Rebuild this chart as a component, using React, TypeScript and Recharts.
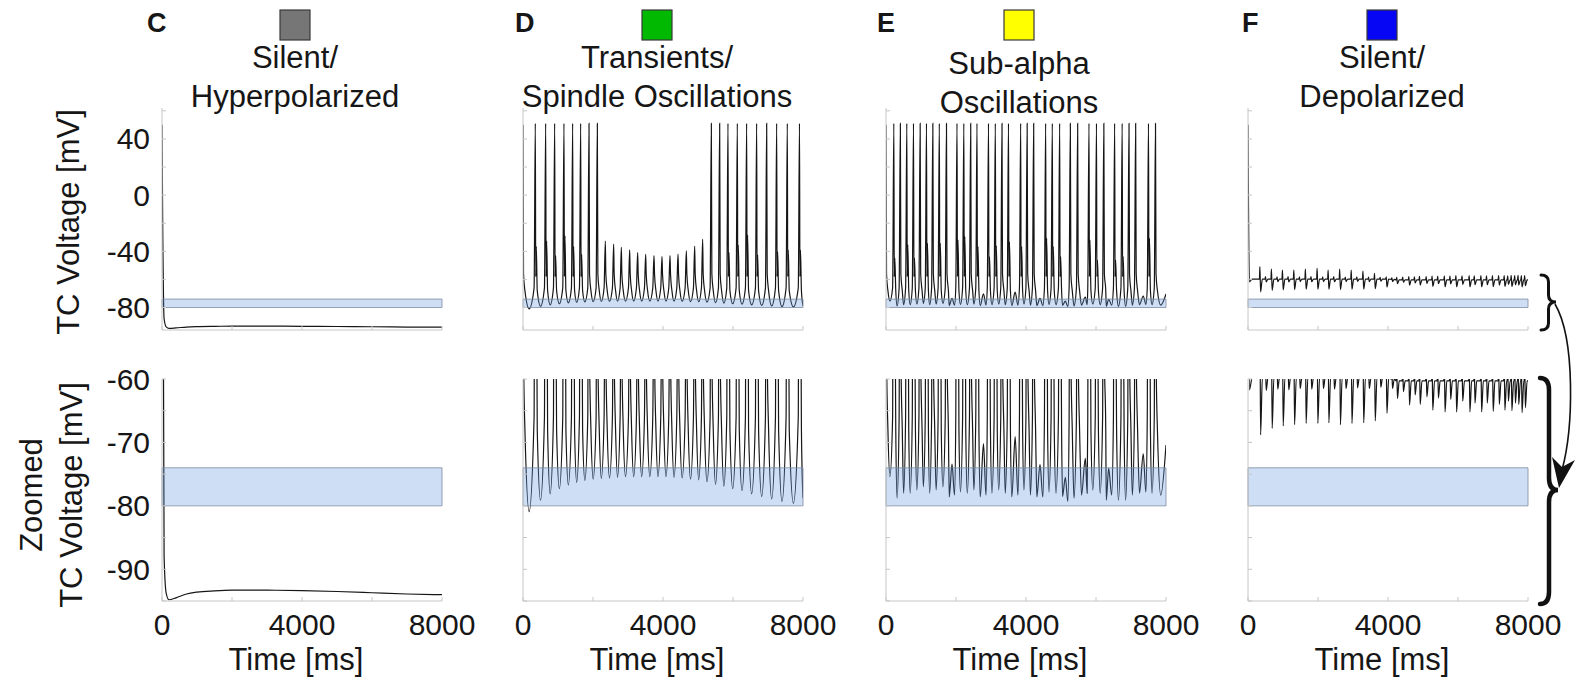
import React from "react"
import { LineChart, Line, XAxis, YAxis, ReferenceArea } from "recharts"

/* Thalamocortical voltage traces, four regimes, full-range and zoomed rows. */

const FONT = '"Liberation Sans", Arial, Helvetica, sans-serif'
const INK = "#161616"
const AXIS = "#c6c6c6"

// ---- axes ----
const timeDomain = [0, 8000]
const timeTicks = [0, 2000, 4000, 6000, 8000]
const timeLabels = [0, 4000, 8000]
const fullDomain = [-96, 62]
const fullTicks = [-80, -60, -40, -20, 0, 20, 40, 60]
const fullLabels = [-80, -40, 0, 40]
const zoomDomain = [-95, -60]
const zoomTicks = [-95, -90, -85, -80, -75, -70, -65, -60]
const zoomLabels = [-90, -80, -70, -60]
const bandRange = [-80, -74]

// ---- C: silent / hyperpolarized ----
const silentHypT = [0, 20, 60, 120, 200, 400, 700, 1000, 1500, 2000, 3000, 4000, 5000, 6000, 7000, 8000]
const silentHypV = [50, -20, -88, -93.8, -94.8, -94.5, -93.9, -93.6, -93.4, -93.3, -93.3, -93.35, -93.5, -93.7, -93.9, -94.0]

// ---- D: transients / spindle oscillations ----
const spindleT = [0, 352, 648, 905, 1171, 1419, 1648, 1886, 2124, 2352, 2590, 2810, 3048, 3276, 3505, 3743, 3971, 4200, 4429, 4667, 4905, 5133, 5381, 5619, 5857, 6124, 6390, 6676, 6962, 7248, 7552, 7900]
const spindlePeak = [50, 51, 51, 51, 51, 51, 51, 51, 51, -32.7, -34.8, -37.2, -39.0, -41.0, -42.1, -43.1, -43.8, -43.1, -41.9, -39.6, -36.2, -31.4, 51, 51, 51, 51, 51, 51, 51, 51, 51, 51]
const spindleShoulder: (number | null)[] = [null, -36.7, -32.7, -43.1, -29.1, -36.7, -42.1, null, null, null, null, null, null, null, null, null, null, null, null, null, null, null, null, null, -41, -35.5, -28.4, -42.6, null, -40.3, -39.1, -39.1]
const spindleTrough = [-80.9, -79.1, -78.1, -77.3, -76.7, -76.3, -76.0, -75.8, -75.7, -75.6, -75.5, -75.4, -75.4, -75.4, -75.4, -75.4, -75.4, -75.5, -75.6, -75.8, -75.9, -76.2, -76.6, -76.9, -77.3, -77.6, -78.1, -78.5, -78.9, -79.3, -79.6]
const spindleEnd = -78.8

// ---- E: sub-alpha oscillations ----
const subAlphaT = [0, 224, 410, 595, 786, 976, 1157, 1338, 1524, 1728, 1886, 2029, 2224, 2420, 2600, 2785, 2929, 3124, 3314, 3500, 3690, 3848, 4033, 4219, 4400, 4562, 4752, 4962, 5124, 5267, 5476, 5695, 5800, 6014, 6224, 6362, 6533, 6748, 6943, 7133, 7350, 7500, 7700]
const subAlphaPeak = [50, 51, 51, 51, 51, 51, 51, 51, 51, 51, -73.4, 51, 51, 51, 51, -70.2, 51, 51, 51, 51, -69.1, 51, 51, 51, -73.5, 51, 51, 51, -75.5, 51, 51, -72.5, 51, 51, 51, -74.1, 51, 51, 51, 51, -71.8, 51, 51]
const subAlphaShoulder: (number | null)[] = [null, -44.9, null, -35.4, -44.9, null, -34.3, null, -34.3, null, null, -32, -29.6, null, -36.6, null, -43.8, -36.1, null, -33.2, null, -36.6, null, null, null, -30.8, -36.6, -43.8, null, null, null, null, -32, -46.2, null, null, -46.2, -43.8, null, null, null, -30.8, null]
const subAlphaTrough = [-75.4, -78.8, -78.0, -78.0, -77.5, -77.0, -78.0, -77.5, -77.0, -78.6, -78.3, -77.8, -78.0, -77.5, -78.6, -78.3, -78.0, -77.5, -78.0, -78.6, -78.3, -77.5, -78.3, -78.6, -78.6, -77.8, -78.0, -78.5, -79.3, -78.8, -78.3, -78.0, -77.5, -78.0, -79.1, -78.3, -79.1, -79.1, -78.3, -78.0, -77.8, -78.0, -78.3]
const subAlphaEnd = -70.4

// ---- F: silent / depolarized ----
const depolLeadT = [0, 40, 120]
const depolLeadV = [50, -61.7, -59.8]
const depolT = [340, 500, 670, 830, 985, 1145, 1310, 1470, 1640, 1800, 1975, 2135, 2290, 2450, 2620, 2780, 2950, 3110, 3285, 3445, 3615, 3775, 3950, 4110, 4250, 4420, 4595, 4755, 4900, 5090, 5260, 5420, 5610, 5770, 5940, 6115, 6320, 6465, 6655, 6815, 6985, 7160, 7320, 7420, 7520, 7620, 7715, 7810, 7905]
const depolUp = [-50.9, -58.0, -52.6, -58.2, -53.3, -58.0, -53.3, -58.2, -52.6, -58.0, -52.1, -58.2, -53.3, -58.0, -52.6, -58.3, -53.3, -58.2, -54.0, -58.4, -55.7, -58.5, -58.1, -58.8, -58.5, -58.3, -58.0, -58.2, -57.8, -58.0, -57.6, -57.8, -57.4, -57.6, -57.3, -57.5, -57.2, -57.4, -57.2, -57.4, -57.2, -57.3, -57.2, -57.4, -57.1, -57.3, -57.1, -57.3, -57.2]
const depolDip = [-68.8, -61.8, -67.8, -61.6, -67.4, -61.7, -67.2, -61.5, -67.0, -61.6, -67.0, -61.5, -66.9, -61.6, -67.2, -61.5, -67.0, -61.4, -66.9, -61.5, -66.6, -61.3, -65.4, -61.5, -63.1, -62.0, -64.1, -62.5, -64.0, -62.8, -64.9, -63.0, -65.2, -63.2, -65.2, -63.5, -65.2, -63.8, -65.2, -63.8, -65.1, -64.0, -64.9, -63.5, -65.0, -63.8, -64.0, -65.3, -64.5]
const depolRest = [-59.8, -59.8, -59.8, -59.8, -59.8, -59.8, -59.8, -59.8, -59.8, -59.8, -59.8, -59.8, -59.8, -59.8, -59.8, -59.8, -59.8, -59.8, -59.8, -59.8, -59.8, -59.8, -59.8, -60.0, -60.3, -60.3, -60.3, -60.3, -60.3, -60.3, -60.3, -60.3, -60.3, -60.3, -60.3, -60.3, -60.3, -60.3, -60.3, -60.3, -60.3, -60.3, -60.3, -60.3, -60.3, -60.3, -60.3, -60.3, -60.3]
const depolEnd = -60.3

type Pt = { t: number; v: number }

function pairs(ts: number[], vs: number[]): Pt[] {
  return ts.map((t, i) => ({ t, v: vs[i] }))
}

// spike train: each event gets its own upstroke/downstroke, troughs sit between events
function spikeTrain(
  times: number[],
  peaks: number[],
  shoulders: (number | null)[],
  troughs: number[],
  endV: number,
): Pt[] {
  const pts: Pt[] = []
  times.forEach((t, i) => {
    const p = peaks[i]
    const big = p > -60
    if (big && t > 0) pts.push({ t: t - 35, v: -66 })
    pts.push({ t, v: p })
    if (big) {
      const s = shoulders[i]
      if (s != null) {
        pts.push({ t: t + 12, v: -58 })
        pts.push({ t: t + 28, v: s })
      } else {
        pts.push({ t: t + 15, v: -56 })
      }
      pts.push({ t: t + 55, v: -68 })
    }
    if (i < troughs.length) {
      const next = i + 1 < times.length ? times[i + 1] : timeDomain[1]
      pts.push({ t: (t + next) / 2, v: troughs[i] })
    }
  })
  pts.push({ t: timeDomain[1], v: endV })
  return pts
}

function cycleTrain(ups: number[], dips: number[], rest: number[], endV: number): Pt[] {
  const pts: Pt[] = pairs(depolLeadT, depolLeadV)
  depolT.forEach((t, i) => {
    pts.push({ t: t - 15, v: rest[i] })
    pts.push({ t, v: ups[i] })
    pts.push({ t: t + 20, v: dips[i] })
    pts.push({ t: t + 70, v: rest[i] })
  })
  pts.push({ t: timeDomain[1], v: endV })
  return pts
}

const traces: Pt[][] = [
  pairs(silentHypT, silentHypV),
  spikeTrain(spindleT, spindlePeak, spindleShoulder, spindleTrough, spindleEnd),
  spikeTrain(subAlphaT, subAlphaPeak, subAlphaShoulder, subAlphaTrough, subAlphaEnd),
  cycleTrain(depolUp, depolDip, depolRest, depolEnd),
]

// ---- layout ----
const PW = 280
const PH = 222
const ML = 72
const MT = 26
const MR = 44
const MB = 56
const colLeft = [162, 523, 886, 1248]
const rowTop = [108, 379]

const headers = [
  { letter: "C", lx: 147, color: "#767676", cx: 295, lines: ["Silent/", "Hyperpolarized"], y0: 68 },
  { letter: "D", lx: 515, color: "#00b900", cx: 657, lines: ["Transients/", "Spindle Oscillations"], y0: 68 },
  { letter: "E", lx: 877, color: "#ffff00", cx: 1019, lines: ["Sub-alpha", "Oscillations"], y0: 74 },
  { letter: "F", lx: 1242, color: "#0606f4", cx: 1382, lines: ["Silent/", "Depolarized"], y0: 68 },
]

function TimeTick(props: any) {
  const { x, y, payload, showLabel } = props
  const lab = showLabel && timeLabels.includes(payload.value)
  return (
    <g>
      <line x1={x} x2={x} y1={y} y2={y - 4} stroke={AXIS} />
      {lab && (
        <text x={x} y={y + 34} textAnchor="middle" fontSize={30} fill={INK} fontFamily={FONT}>
          {payload.value}
        </text>
      )}
    </g>
  )
}

function VoltTick(props: any) {
  const { x, y, payload, labels } = props
  const lab = labels.includes(payload.value)
  return (
    <g>
      <line x1={x} x2={x + 4} y1={y} y2={y} stroke={AXIS} />
      {lab && (
        <text x={x - 12} y={y + 10.5} textAnchor="end" fontSize={30} fill={INK} fontFamily={FONT}>
          {payload.value}
        </text>
      )}
    </g>
  )
}

function Panel({ col, zoomed }: { col: number; zoomed: boolean }) {
  const labelled = col === 0
  const vLabels = labelled ? (zoomed ? zoomLabels : fullLabels) : []
  return (
    <div style={{ position: "absolute", left: colLeft[col] - ML, top: rowTop[zoomed ? 1 : 0] - MT }}>
      <LineChart
        width={ML + PW + MR}
        height={MT + PH + MB}
        data={traces[col]}
        margin={{ top: MT, right: MR, bottom: 0, left: 0 }}
        style={{ overflow: "visible" }}
      >
        <XAxis
          dataKey="t"
          type="number"
          domain={timeDomain}
          ticks={timeTicks}
          interval={0}
          allowDataOverflow
          height={MB}
          tickSize={0}
          tickMargin={0}
          tickLine={false}
          axisLine={{ stroke: AXIS }}
          tick={(p: any) => <TimeTick {...p} showLabel={zoomed} />}
        />
        <YAxis
          type="number"
          domain={zoomed ? zoomDomain : fullDomain}
          ticks={zoomed ? zoomTicks : fullTicks}
          interval={0}
          allowDataOverflow
          width={ML}
          tickSize={0}
          tickMargin={0}
          tickLine={false}
          axisLine={{ stroke: AXIS }}
          tick={(p: any) => <VoltTick {...p} labels={vLabels} />}
        />
        <Line
          dataKey="v"
          type="monotone"
          stroke={INK}
          strokeWidth={1.2}
          dot={false}
          isAnimationActive={false}
        />
        <ReferenceArea
          y1={bandRange[0]}
          y2={bandRange[1]}
          fill="#5891dd"
          fillOpacity={0.3}
          stroke="#7f8ba0"
          strokeWidth={0.8}
          zIndex={450}
        />
      </LineChart>
    </div>
  )
}

function bracePath(x0: number, y0: number, y1: number, ym: number, w: number, r: number) {
  const xs = x0 + w / 2
  const xt = x0 + w
  return `M${x0},${y0} Q${xs},${y0} ${xs},${y0 + r} L${xs},${ym - r} Q${xs},${ym} ${xt},${ym} Q${xs},${ym} ${xs},${ym + r} L${xs},${y1 - r} Q${xs},${y1} ${x0},${y1}`
}

function Overlay() {
  return (
    <svg
      width={1577}
      height={679}
      style={{ position: "absolute", left: 0, top: 0, pointerEvents: "none" }}
      fontFamily={FONT}
    >
      {headers.map((h) => (
        <g key={h.letter}>
          <text x={h.lx} y={32} fontSize={27} fontWeight="bold" fill={INK}>
            {h.letter}
          </text>
          <rect x={h.cx - 15} y={10} width={30} height={30} fill={h.color} stroke="#3a3a3a" strokeWidth={1.2} />
          <text x={h.cx} y={h.y0} fontSize={31} textAnchor="middle" fill={INK}>
            {h.lines[0]}
          </text>
          <text x={h.cx} y={h.y0 + 39} fontSize={31} textAnchor="middle" fill={INK}>
            {h.lines[1]}
          </text>
        </g>
      ))}
      {colLeft.map((x) => (
        <text key={x} x={x + PW / 2 - 6} y={670} fontSize={31} textAnchor="middle" fill={INK}>
          Time [ms]
        </text>
      ))}
      <text x={79} y={222} fontSize={31} textAnchor="middle" fill={INK} transform="rotate(-90 79 222)">
        TC Voltage [mV]
      </text>
      <text x={42} y={495} fontSize={31} textAnchor="middle" fill={INK} transform="rotate(-90 42 495)">
        Zoomed
      </text>
      <text x={82} y={495} fontSize={31} textAnchor="middle" fill={INK} transform="rotate(-90 82 495)">
        TC Voltage [mV]
      </text>
      <path d={bracePath(1541, 275, 330, 302, 15, 7)} fill="none" stroke="#111" strokeWidth={3} strokeLinecap="round" />
      <path d={bracePath(1540, 378, 604, 490, 18, 12)} fill="none" stroke="#111" strokeWidth={4.5} strokeLinecap="round" />
      <path d="M1555,304 C1576,340 1573,430 1562,470" fill="none" stroke="#111" strokeWidth={1.6} />
      <polygon points="1559,488 1552,457 1562,467 1575,460" fill="#111" />
    </svg>
  )
}

export default function App() {
  return (
    <div
      style={{
        position: "absolute",
        left: 0,
        top: 0,
        width: 1577,
        height: 679,
        background: "#fff",
        fontFamily: FONT,
        overflow: "hidden",
      }}
    >
      {colLeft.map((_, c) => (
        <React.Fragment key={c}>
          <Panel col={c} zoomed={false} />
          <Panel col={c} zoomed={true} />
        </React.Fragment>
      ))}
      <Overlay />
    </div>
  )
}
